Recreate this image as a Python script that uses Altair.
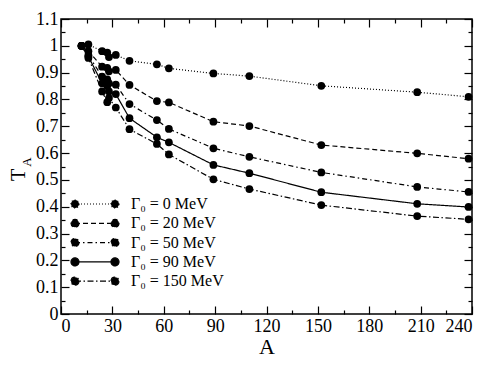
import altair as alt
import pandas as pd

A_values = [12, 16, 24, 27, 28, 32, 40, 56, 63, 89, 110, 152, 208, 238]
series_names = ["Γ₀ = 0 MeV", "Γ₀ = 20 MeV", "Γ₀ = 50 MeV", "Γ₀ = 90 MeV", "Γ₀ = 150 MeV"]
T_g0 = [1.0, 1.005, 0.98, 0.975, 0.958, 0.966, 0.944, 0.931, 0.916, 0.897, 0.887, 0.851, 0.827, 0.810]
T_g20 = [1.0, 0.98, 0.922, 0.918, 0.905, 0.91, 0.854, 0.794, 0.789, 0.717, 0.701, 0.630, 0.599, 0.579]
T_g50 = [1.0, 0.965, 0.885, 0.875, 0.86, 0.855, 0.783, 0.723, 0.690, 0.618, 0.586, 0.528, 0.474, 0.455]
T_g90 = [1.0, 0.96, 0.86, 0.85, 0.83, 0.82, 0.730, 0.659, 0.640, 0.556, 0.525, 0.454, 0.411, 0.399]
T_g150 = [1.0, 0.955, 0.83, 0.79, 0.805, 0.77, 0.689, 0.634, 0.595, 0.502, 0.466, 0.406, 0.365, 0.353]
x_major = [0, 30, 60, 90, 120, 150, 180, 210, 240]
x_minor = [15, 45, 75, 105, 135, 165, 195, 225]
y_major = [0, 0.1, 0.2, 0.3, 0.4, 0.5, 0.6, 0.7, 0.8, 0.9, 1.0, 1.1]
y_minor = [0.05, 0.15, 0.25, 0.35, 0.45, 0.55, 0.65, 0.75, 0.85, 0.95, 1.05]

rows = []
for name, ts in zip(series_names, [T_g0, T_g20, T_g50, T_g90, T_g150]):
    for a, t in zip(A_values, ts):
        rows.append({"A": a, "T": t, "series": name})
df = pd.DataFrame(rows)

W, H = 411, 295
FONT = "Liberation Serif"
xscale = alt.Scale(domain=[0, 240], nice=False)
yscale = alt.Scale(domain=[0, 1.1], nice=False)
dashes = [[1, 2], [5, 3], [5, 3, 1.5, 3], [1, 0], [6, 2.5, 1.5, 2.5]]

r = 0.5
legend_path = (
    "M-2.5,0L2.5,0"
    f"M{-2.5 + r},0A{r},{r},0,1,1,{-2.5 - r},0A{r},{r},0,1,1,{-2.5 + r},0"
    f"M{2.5 + r},0A{r},{r},0,1,1,{2.5 - r},0A{r},{r},0,1,1,{2.5 + r},0"
)

base = alt.Chart(df)

lines = base.mark_line(color="black", strokeWidth=1.2).encode(
    x=alt.X("A:Q", scale=xscale, axis=alt.Axis(
        orient="bottom", values=x_major, ticks=False, domain=False, grid=False,
        labelFontSize=18, labelPadding=3, labelFont=FONT, labelColor="black",
        title="A", titleFont=FONT, titleFontSize=22, titleFontWeight="normal",
        titleColor="black", titlePadding=1)),
    y=alt.Y("T:Q", scale=yscale, axis=alt.Axis(
        orient="left", values=y_major, format="~g", ticks=False, domain=False,
        grid=False, labelFontSize=18, labelPadding=3, labelFont=FONT,
        labelColor="black", title=None)),
    strokeDash=alt.StrokeDash("series:N", scale=alt.Scale(domain=series_names, range=dashes),
        legend=alt.Legend(orient="none", legendX=25, legendY=176, title=None,
                          symbolType=legend_path, symbolSize=256,
                          symbolFillColor="black", symbolStrokeColor="black",
                          symbolStrokeWidth=1.2, labelFont=FONT, labelFontSize=16,
                          labelColor="black", labelOffset=27, rowPadding=2.3,
                          padding=0)),
)

points = base.mark_circle(color="black", size=60, opacity=1).encode(
    x=alt.X("A:Q", scale=xscale, axis=None),
    y=alt.Y("T:Q", scale=yscale, axis=None),
)


def tick_layer(xorient, xoff, yorient, yoff, xv, yv, size):
    return base.mark_point(opacity=0).encode(
        x=alt.X("A:Q", scale=xscale, axis=alt.Axis(
            orient=xorient, offset=xoff, values=xv, labels=False, domain=False,
            grid=False, tickSize=size, tickColor="black", tickWidth=1.2, title=None)),
        y=alt.Y("T:Q", scale=yscale, axis=alt.Axis(
            orient=yorient, offset=yoff, values=yv, labels=False, domain=False,
            grid=False, tickSize=size, tickColor="black", tickWidth=1.2, title=None)),
    )


t1 = tick_layer("top", -H, "right", -W, x_major, y_major, 8)
t2 = tick_layer("bottom", -H, "left", -W, x_major, y_major, 8)
t3 = tick_layer("top", -H, "right", -W, x_minor, y_minor, 4)
t4 = tick_layer("bottom", -H, "left", -W, x_minor, y_minor, 4)

title_T = alt.Chart(pd.DataFrame({"t": ["T"]})).mark_text(
    font=FONT, fontSize=20, angle=270, align="center", baseline="middle", color="black"
).encode(x=alt.value(-42), y=alt.value(156), text="t:N")
title_sub = alt.Chart(pd.DataFrame({"t": ["A"]})).mark_text(
    font=FONT, fontSize=13, angle=270, align="center", baseline="middle", color="black"
).encode(x=alt.value(-34), y=alt.value(143), text="t:N")

chart = alt.layer(lines, points, t1, t2, t3, t4, title_T, title_sub).resolve_axis(
    x="independent", y="independent"
).properties(
    width=W, height=H,
    padding={"left": 53, "top": 11, "right": 11, "bottom": 46},
    autosize=alt.AutoSizeParams(type="none"),
).configure(
    background="white", font=FONT
).configure_axis(
    labelFont=FONT, titleFont=FONT
).configure_legend(
    labelFont=FONT
).configure_text(
    font=FONT
).configure_view(stroke="black", strokeWidth=1.5)

chart.save("out.html", embed_options={"renderer": "svg", "actions": False})
